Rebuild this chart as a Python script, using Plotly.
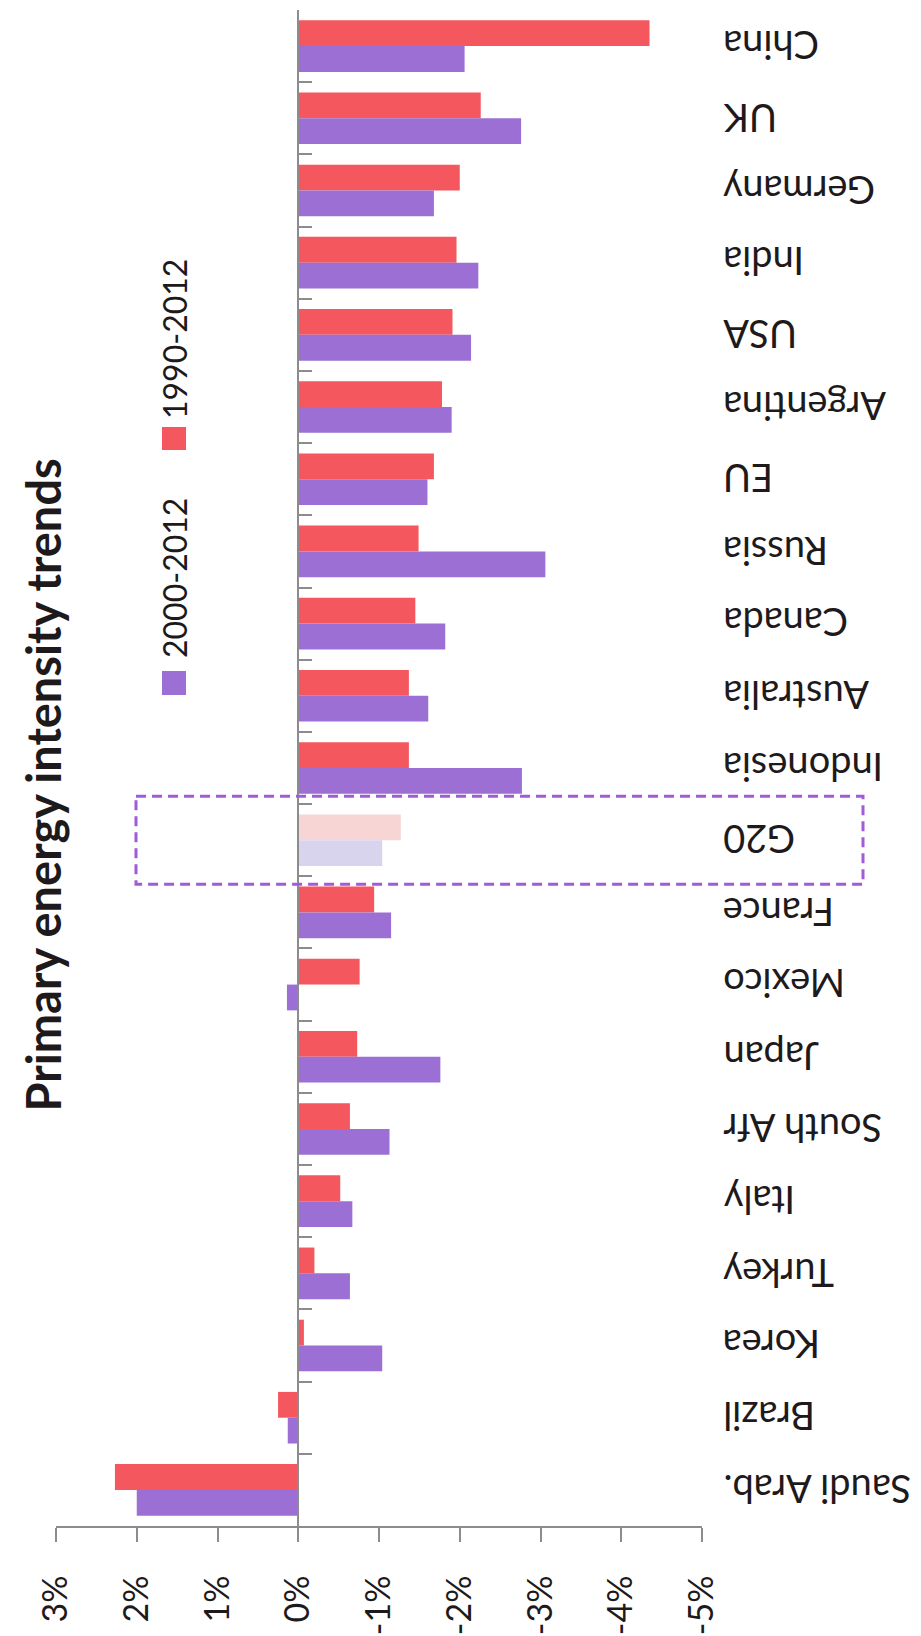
import plotly.graph_objects as go

# ---------------- data ----------------
categories = ["China", "UK", "Germany", "India", "USA", "Argentina", "EU", "Russia",
              "Canada", "Australia", "Indonesia", "G20", "France", "Mexico", "Japan",
              "South Afr", "Italy", "Turkey", "Korea", "Brazil", "Saudi Arab."]
trend_1990_2012 = [-4.35, -2.26, -2.00, -1.96, -1.91, -1.78, -1.68, -1.49, -1.45, -1.37,
                   -1.37, -1.27, -0.94, -0.76, -0.73, -0.64, -0.52, -0.20, -0.07, 0.25, 2.27]
trend_2000_2012 = [-2.06, -2.76, -1.68, -2.23, -2.14, -1.90, -1.60, -3.06, -1.82, -1.61,
                   -2.77, -1.04, -1.15, 0.14, -1.76, -1.13, -0.67, -0.64, -1.04, 0.13, 2.00]
series_names = ["1990-2012", "2000-2012"]
value_ticks = [3, 2, 1, 0, -1, -2, -3, -4, -5]
highlight = "G20"
title_text = "Primary energy intensity trends"

# ---------------- style ----------------
W, H = 921, 1636
ML, MR, MT, MB = 48, 227, 2, 118
PW, PH = W - ML - MR, H - MT - MB
FONT = "Lato"
TXT = "#1E1A1B"
RED, RED_PALE = "#F5575F", "#F8D5D5"
PUR, PUR_PALE = "#9B6FD3", "#D9D4EE"
AXIS = "#8C8C8C"


def px_x(px):
    return (px - ML) / PW


def px_y(py):
    return 1 - (py - MT) / PH


red_cols = [RED_PALE if c == highlight else RED for c in categories]
pur_cols = [PUR_PALE if c == highlight else PUR for c in categories]

fig = go.Figure()
fig.add_trace(go.Bar(y=categories, x=trend_1990_2012, orientation="h",
                     name=series_names[0], marker=dict(color=red_cols, line=dict(width=0)),
                     showlegend=False))
fig.add_trace(go.Bar(y=categories, x=trend_2000_2012, orientation="h",
                     name=series_names[1], marker=dict(color=pur_cols, line=dict(width=0)),
                     showlegend=False))

zero_pos = (value_ticks[0] - 0) / (value_ticks[0] - value_ticks[-1])

fig.update_layout(
    width=W, height=H,
    margin=dict(l=ML, r=MR, t=MT, b=MB, pad=0, autoexpand=False),
    paper_bgcolor="white", plot_bgcolor="white",
    barmode="group", bargap=0.285, bargroupgap=0,
    font=dict(family=FONT, color=TXT),
    xaxis=dict(
        range=[value_ticks[0], value_ticks[-1]],
        tickvals=value_ticks, ticktext=[f"{v}%" for v in value_ticks],
        tickangle=-90, ticks="outside", ticklen=14, tickwidth=2, tickcolor=AXIS,
        showline=True, linecolor=AXIS, linewidth=2,
        showgrid=False, zeroline=False, automargin=False,
        tickfont=dict(family=FONT, size=34, color=TXT),
        ticklabelstandoff=20,
    ),
    yaxis=dict(
        categoryorder="array", categoryarray=categories, autorange="reversed",
        anchor="free", position=zero_pos, side="left",
        showline=True, linecolor=AXIS, linewidth=2,
        ticks="inside", tickson="boundaries", ticklen=13, tickcolor=AXIS, tickwidth=1.5,
        showticklabels=False, showgrid=False, zeroline=False, automargin=False,
    ),
)

annotations = []
# category labels (upside down, as in the scanned page)
for c in categories:
    annotations.append(dict(
        text=c, x=px_x(713), y=c, xref="paper", yref="y",
        xanchor="left", yanchor="middle", textangle=180, showarrow=False,
        font=dict(family=FONT, size=38, color=TXT)))

# title
annotations.append(dict(
    text=f"<b>{title_text}</b>", x=px_x(34), y=px_y(1106), xref="paper", yref="paper",
    xanchor="center", yanchor="bottom", textangle=-90, showarrow=False,
    font=dict(family=FONT, size=47, color=TXT)))

# legend text
annotations.append(dict(
    text=series_names[1], x=px_x(166), y=px_y(652), xref="paper", yref="paper",
    xanchor="center", yanchor="bottom", textangle=-90, showarrow=False,
    font=dict(family=FONT, size=32, color=TXT)))
annotations.append(dict(
    text=series_names[0], x=px_x(166), y=px_y(413), xref="paper", yref="paper",
    xanchor="center", yanchor="bottom", textangle=-90, showarrow=False,
    font=dict(family=FONT, size=32, color=TXT)))
fig.update_layout(annotations=annotations)

shapes = [
    # legend squares
    dict(type="rect", xref="paper", yref="paper", x0=px_x(154), x1=px_x(178),
         y0=px_y(687), y1=px_y(663), fillcolor=PUR, line=dict(width=0)),
    dict(type="rect", xref="paper", yref="paper", x0=px_x(154), x1=px_x(178),
         y0=px_y(442), y1=px_y(419), fillcolor=RED, line=dict(width=0)),
]
gi = categories.index(highlight)
shapes.append(dict(type="rect", xref="paper", yref="y",
                   x0=px_x(128), x1=px_x(855), y0=gi - 0.61, y1=gi + 0.61,
                   line=dict(color="#A25BD8", width=3, dash="10px,6px"),
                   fillcolor="rgba(0,0,0,0)"))
fig.update_layout(shapes=shapes)

fig.write_html("out.html")
